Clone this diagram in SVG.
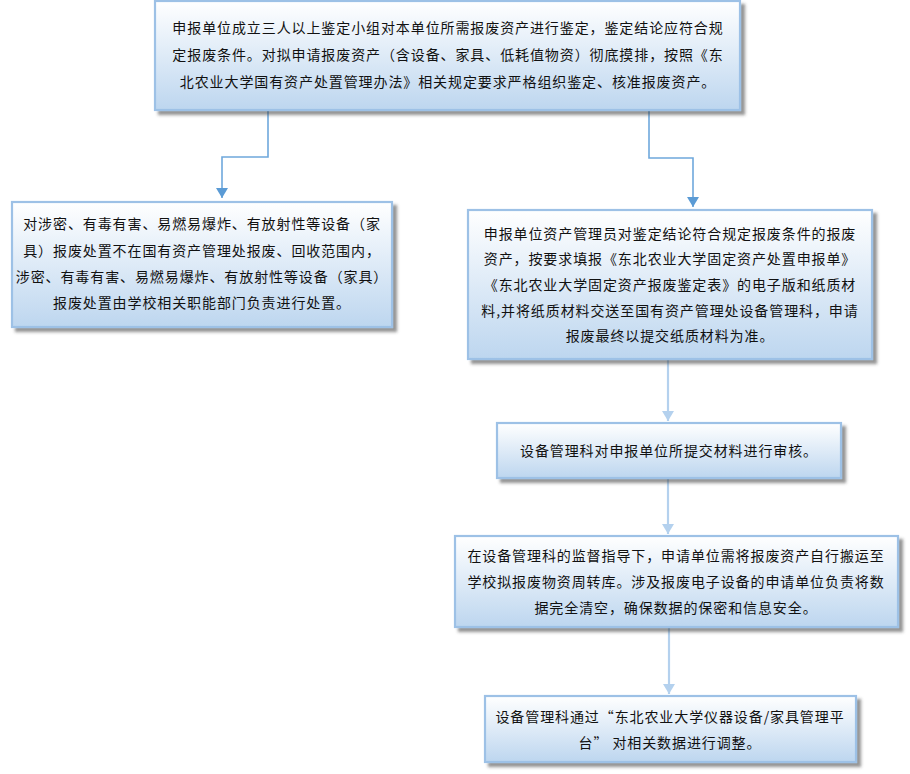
<svg xmlns="http://www.w3.org/2000/svg" width="910" height="774" viewBox="0 0 910 774">
<defs>
<linearGradient id="g" x1="0" y1="0" x2="0" y2="1">
<stop offset="0" stop-color="#ffffff"/>
<stop offset="1" stop-color="#bdd6ef"/>
</linearGradient>
<filter id="sh" x="-5%" y="-10%" width="115%" height="130%">
<feDropShadow dx="4" dy="4" stdDeviation="1.5" flood-color="#404040" flood-opacity="0.55"/>
</filter>
<marker id="ad" markerWidth="12" markerHeight="12" viewBox="0 0 12 12" refX="10" refY="6" orient="auto" markerUnits="userSpaceOnUse">
<path d="M0,0 L10,6 L0,12 z" fill="#5b9bd5"/>
</marker>
<marker id="al" markerWidth="12" markerHeight="12" viewBox="0 0 12 12" refX="10" refY="6" orient="auto" markerUnits="userSpaceOnUse">
<path d="M0,0 L10,6 L0,12 z" fill="#b4d1ee"/>
</marker>
</defs>
<style>
.box{fill:url(#g);stroke:#9dc1e6;stroke-width:2.2;filter:url(#sh)}
.t{font-family:"Noto Sans CJK SC","Noto Sans",sans-serif;font-size:14px;letter-spacing:0.9px;fill:#111;text-anchor:middle;dominant-baseline:central}
.cd{fill:none;stroke:#6fa8dc;stroke-width:1.6}
.cl{fill:none;stroke:#b4d1ee;stroke-width:2.2}
</style>
<rect width="910" height="774" fill="#ffffff"/>
<g id="connectors">
<path class="cd" d="M268,110 V157 H222 V198" marker-end="url(#ad)"/>
<path class="cd" d="M649,110 V158 H693 V207" marker-end="url(#ad)"/>
<path class="cl" d="M668,359 V421" marker-end="url(#al)"/>
<path class="cl" d="M668,479 V534" marker-end="url(#al)"/>
<path class="cl" d="M669,628 V694" marker-end="url(#al)"/>
</g>
<g id="n1">
<rect class="box" x="155" y="1" width="585" height="109"/>
<text class="t" x="448" y="27">申报单位成立三人以上鉴定小组对本单位所需报废资产进行鉴定，鉴定结论应符合规</text>
<text class="t" x="448" y="54">定报废条件。对拟申请报废资产（含设备、家具、低耗值物资）彻底摸排，按照《东</text>
<text class="t" x="448" y="81">北农业大学国有资产处置管理办法》相关规定要求严格组织鉴定、核准报废资产。</text>
</g>
<g id="n2">
<rect class="box" x="12" y="202" width="380" height="125"/>
<text class="t" x="202" y="223">对涉密、有毒有害、易燃易爆炸、有放射性等设备（家</text>
<text class="t" x="202" y="250">具）报废处置不在国有资产管理处报废、回收范围内，</text>
<text class="t" x="202" y="276">涉密、有毒有害、易燃易爆炸、有放射性等设备（家具）</text>
<text class="t" x="202" y="302">报废处置由学校相关职能部门负责进行处置。</text>
</g>
<g id="n3">
<rect class="box" x="468" y="210" width="404" height="149"/>
<text class="t" x="670" y="233">申报单位资产管理员对鉴定结论符合规定报废条件的报废</text>
<text class="t" x="670" y="258">资产，按要求填报《东北农业大学固定资产处置申报单》</text>
<text class="t" x="670" y="284">《东北农业大学固定资产报废鉴定表》的电子版和纸质材</text>
<text class="t" x="670" y="310">料,并将纸质材料交送至国有资产管理处设备管理科，申请</text>
<text class="t" x="670" y="335">报废最终以提交纸质材料为准。</text>
</g>
<g id="n4">
<rect class="box" x="497" y="423" width="344" height="55"/>
<text class="t" x="669" y="450">设备管理科对申报单位所提交材料进行审核。</text>
</g>
<g id="n5">
<rect class="box" x="455" y="536" width="443" height="91"/>
<text class="t" x="676" y="555">在设备管理科的监督指导下，申请单位需将报废资产自行搬运至</text>
<text class="t" x="676" y="581">学校拟报废物资周转库。涉及报废电子设备的申请单位负责将数</text>
<text class="t" x="676" y="607">据完全清空，确保数据的保密和信息安全。</text>
</g>
<g id="n6">
<rect class="box" x="485" y="696" width="371" height="66"/>
<text class="t" x="670" y="716">设备管理科通过“东北农业大学仪器设备/家具管理平</text>
<text class="t" x="670" y="742">台” 对相关数据进行调整。</text>
</g>
</svg>
